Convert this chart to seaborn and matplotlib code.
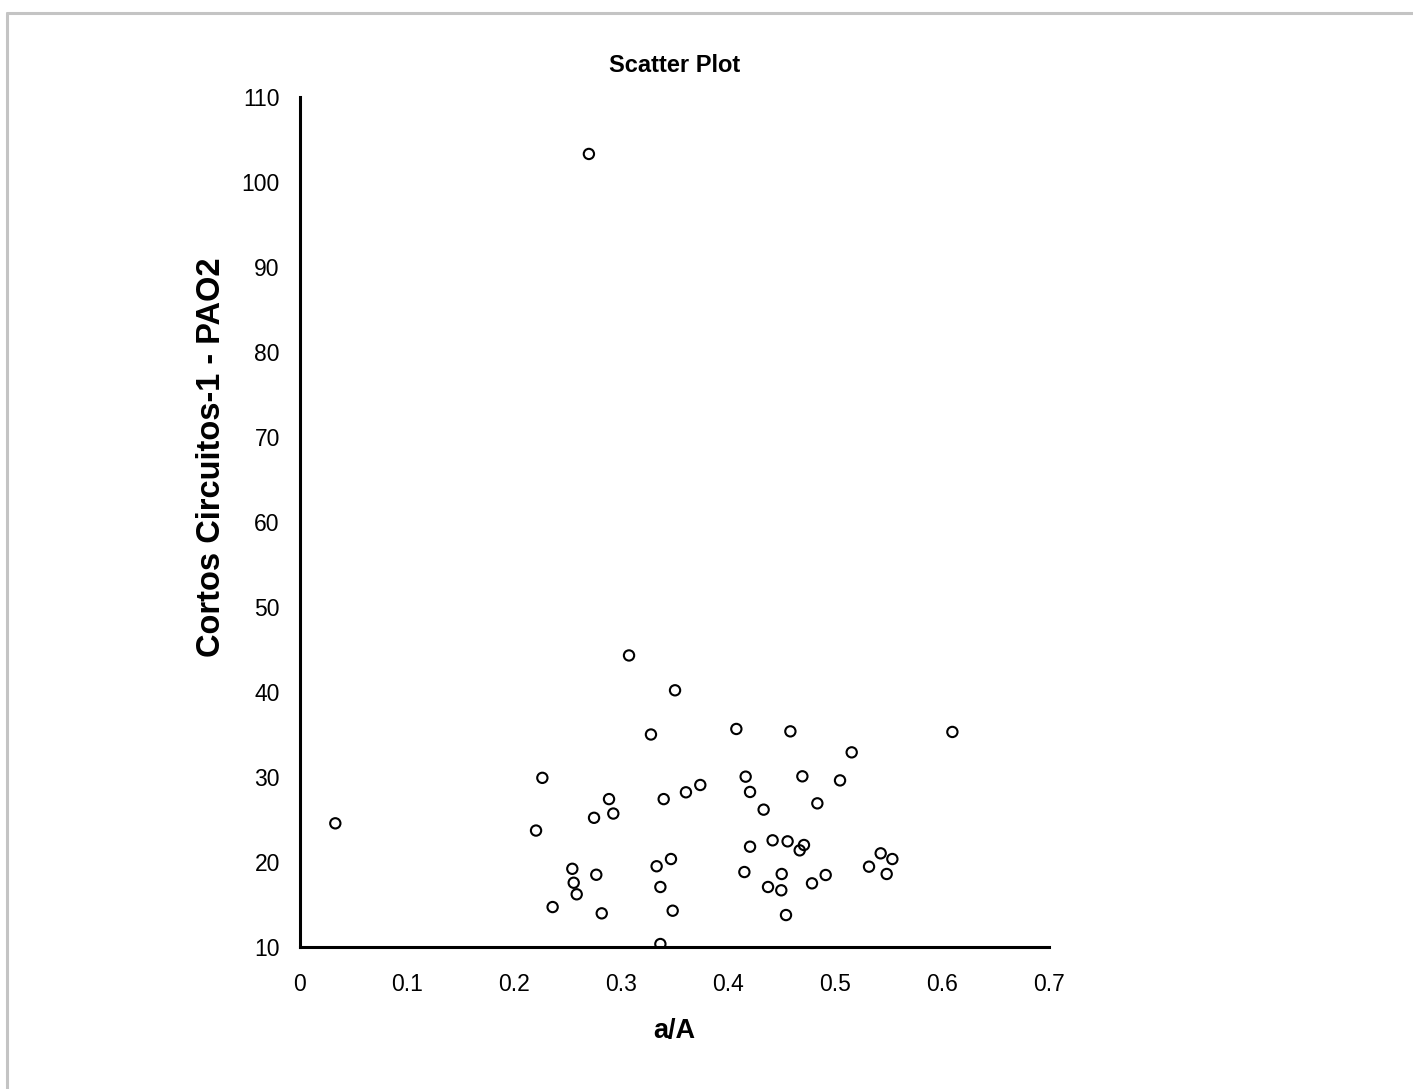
import matplotlib
matplotlib.use("Agg")
import matplotlib.pyplot as plt
from matplotlib.lines import Line2D
import seaborn as sns
import pandas as pd

# ---- data ----
aA = [0.033, 0.2206, 0.2265, 0.2361, 0.2545, 0.2558, 0.2586, 0.2700, 0.2748, 0.2769,
      0.2820, 0.2888, 0.2928, 0.3075, 0.3280, 0.3333, 0.3368, 0.3368, 0.3399, 0.3467,
      0.3483, 0.3505, 0.3607, 0.3741, 0.4078, 0.4153, 0.4165, 0.4206, 0.4206, 0.4333,
      0.4374, 0.4417, 0.4498, 0.4502, 0.4542, 0.4557, 0.4583, 0.4670, 0.4695, 0.4710,
      0.4785, 0.4835, 0.4913, 0.5047, 0.5156, 0.5318, 0.5427, 0.5483, 0.5536, 0.6097]
pao2 = [24.55, 23.7, 29.9, 14.7, 19.2, 17.56, 16.2, 103.3, 25.2, 18.5,
        13.96, 27.4, 25.7, 44.3, 35.0, 19.5, 17.06, 10.35, 27.4, 20.35,
        14.27, 40.2, 28.2, 29.06, 35.65, 18.82, 30.04, 28.24, 21.8, 26.16,
        17.06, 22.55, 16.67, 18.59, 13.76, 22.43, 35.37, 21.37, 30.08, 22.0,
        17.49, 26.9, 18.47, 29.6, 32.9, 19.45, 21.02, 18.59, 20.35, 35.3]
x_ticks = [0, 0.1, 0.2, 0.3, 0.4, 0.5, 0.6, 0.7]
x_tick_labels = ["0", "0.1", "0.2", "0.3", "0.4", "0.5", "0.6", "0.7"]
y_ticks = [10, 20, 30, 40, 50, 60, 70, 80, 90, 100, 110]

df = pd.DataFrame({"a/A": aA, "PAO2": pao2})

sns.set_theme(style="white")
plt.rcParams["font.family"] = ["Liberation Sans", "DejaVu Sans"]

fig = plt.figure(figsize=(14.13, 10.89), dpi=100)
ax = fig.add_axes([300 / 1413, 1 - 947 / 1089, 749 / 1413, 850 / 1089])

sns.scatterplot(data=df, x="a/A", y="PAO2", ax=ax, marker="o", s=55,
                facecolor="none", edgecolor="black", linewidth=1.5)

ax.set_xlim(0, 0.7)
ax.set_ylim(10, 110)
ax.set_xticks(x_ticks)
ax.set_xticklabels(x_tick_labels)
ax.set_yticks(y_ticks)
ax.set_yticklabels([str(v) for v in y_ticks])

for side in ["top", "right"]:
    ax.spines[side].set_visible(False)
for side in ["left", "bottom"]:
    ax.spines[side].set_linewidth(2.2)
    ax.spines[side].set_color("black")

ax.tick_params(axis="both", which="major", direction="out", length=4.5, width=2,
               color="black", labelsize=16.5, labelcolor="black")
ax.tick_params(axis="x", pad=14)
ax.tick_params(axis="y", pad=10)

ax.set_xlabel("a/A", fontsize=19.5, fontweight="bold", color="black", labelpad=16)
ax.set_ylabel("Cortos Circuitos-1 - PAO2", fontsize=23.5, fontweight="bold",
              color="black")
ax.yaxis.set_label_coords(-0.098, 0.576)
ax.set_title("Scatter Plot", fontsize=17, fontweight="bold", color="black", pad=18)

# light grey frame (top and left edges visible in the reference)
fig.add_artist(Line2D([6.5 / 1413, 1.0], [1 - 12.5 / 1089, 1 - 12.5 / 1089],
                      transform=fig.transFigure, color="#c4c4c4", linewidth=2.2))
fig.add_artist(Line2D([6.5 / 1413, 6.5 / 1413], [0.0, 1 - 12.5 / 1089],
                      transform=fig.transFigure, color="#c4c4c4", linewidth=2.2))

fig.savefig("out.png", dpi=100, facecolor="white")
